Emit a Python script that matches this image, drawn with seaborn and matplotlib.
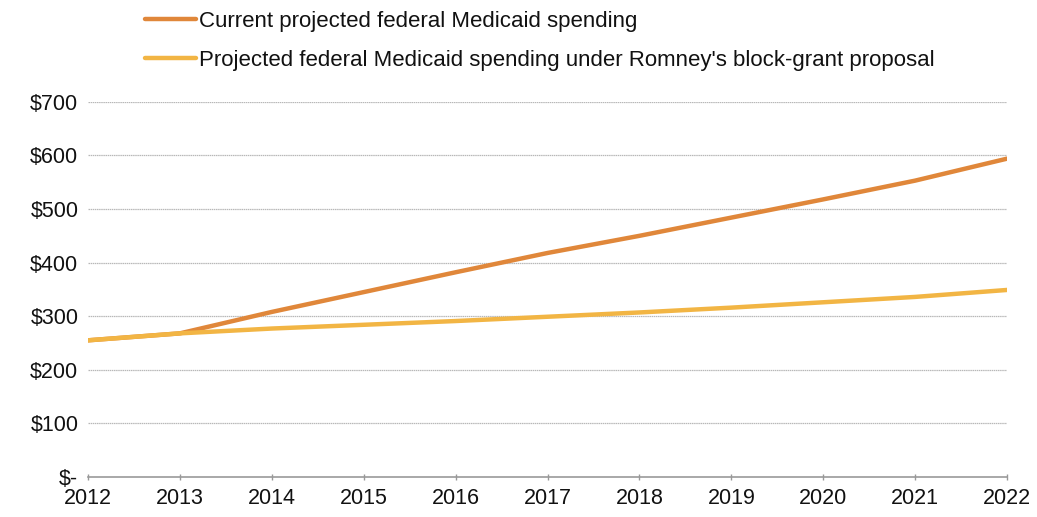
import matplotlib
matplotlib.use("Agg")
import matplotlib.pyplot as plt
import seaborn as sns
import pandas as pd

years = list(range(2012, 2023))
current_spending = [255, 268, 308, 345, 382, 418, 450, 484, 518, 553, 594]
block_grant_spending = [255, 268, 277, 284, 291, 299, 307, 316, 326, 336, 349]
series_names = [
    "Current projected federal Medicaid spending",
    "Projected federal Medicaid spending under Romney's block-grant proposal",
]
y_ticks = [0, 100, 200, 300, 400, 500, 600, 700]
y_labels = ["$-", "$100", "$200", "$300", "$400", "$500", "$600", "$700"]
colors = ["#E0873A", "#F2B544"]

df = pd.DataFrame({
    "year": years * 2,
    "spending": current_spending + block_grant_spending,
    "series": [series_names[0]] * len(years) + [series_names[1]] * len(years),
})

sns.set_theme(style="white")
plt.rcParams["font.family"] = ["Liberation Sans", "DejaVu Sans"]

fig = plt.figure(figsize=(10.37, 5.17), dpi=100)
ax = fig.add_axes([0.0849, 0.0774, 0.8862, 0.7256])

sns.lineplot(data=df, x="year", y="spending", hue="series",
             palette=colors, linewidth=3.2, ax=ax, legend=False)

ax.set_xlim(2012, 2022)
ax.set_ylim(0, 700)
ax.set_yticks(y_ticks)
ax.set_yticklabels(y_labels)
ax.set_xticks(years)
ax.set_xticklabels([str(y) for y in years])
ax.set_xlabel("")
ax.set_ylabel("")

for v in y_ticks[1:]:
    ax.axhline(v, color="#b8b8b8", linewidth=0.9, linestyle=(0, (1.2, 0.5)), zorder=0)

for side in ["top", "right", "left"]:
    ax.spines[side].set_visible(False)
ax.spines["bottom"].set_color("#999999")
ax.spines["bottom"].set_linewidth(1.2)

ax.tick_params(axis="y", length=0, labelsize=15.5, pad=7, colors="#111111")
ax.tick_params(axis="x", length=4, width=1, color="#999999", direction="inout",
               labelsize=15.5, pad=6, colors="#111111", bottom=True)

handles = [plt.Line2D([0], [0], color=c, linewidth=3.2) for c in colors]
fig.legend(handles, series_names, loc="upper left",
           bbox_to_anchor=(0.1204, 1.0176), frameon=False, fontsize=16,
           handlelength=2.3, handletextpad=0.12, labelspacing=0.8,
           labelcolor="#111111")

fig.savefig("out.png", dpi=100, facecolor="white")
